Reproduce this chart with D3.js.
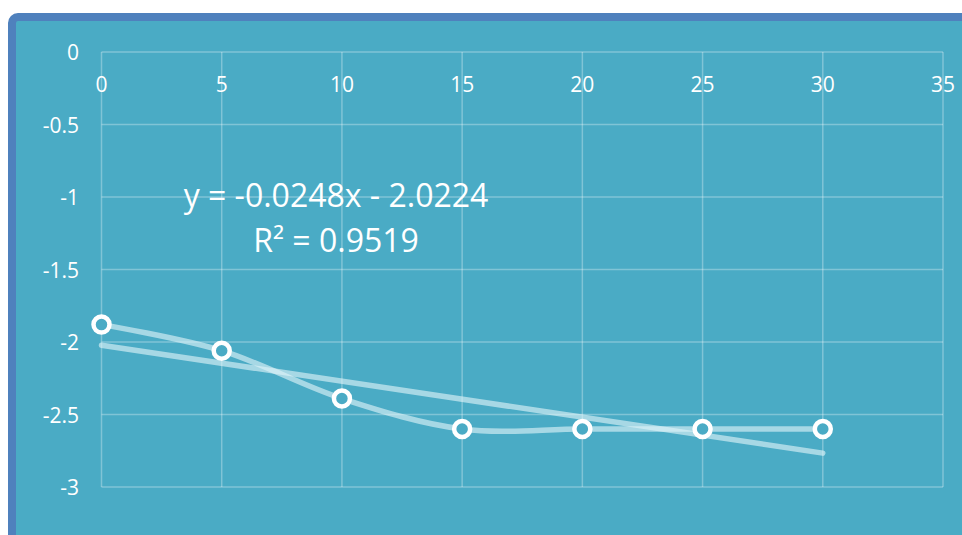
<!DOCTYPE html>
<html><head><meta charset="utf-8">
<script src="https://cdn.jsdelivr.net/npm/d3@7"></script>
<style>body{margin:0;background:#fff;}svg{display:block;}</style>
</head><body>
<svg id="c" width="962" height="535"></svg>
<script>
const xValues = [0, 5, 10, 15, 20, 25, 30];
const yValues = [-1.88, -2.06, -2.39, -2.6, -2.6, -2.6, -2.6];
const xTicks = [0, 5, 10, 15, 20, 25, 30, 35];
const yTicks = [0, -0.5, -1, -1.5, -2, -2.5, -3];
const trendSlope = -0.0248;
const trendIntercept = -2.0224;
const equationLabel = "y = -0.0248x - 2.0224";
const r2Label = "R² = 0.9519";

const svg = d3.select("#c");
const bg = "#4AABC5";
svg.append("rect").attr("x", 12).attr("y", 17).attr("width", 970).attr("height", 540)
  .attr("rx", 6).attr("fill", bg).attr("stroke", "#4F81BD").attr("stroke-width", 8);

const x = d3.scaleLinear().domain([0, 35]).range([101.5, 943]);
const y = d3.scaleLinear().domain([0, -3]).range([52, 487]);
const grid = "rgba(255,255,255,0.3)";

const gx = svg.append("g");
gx.selectAll("line").data(xTicks).join("line")
  .attr("x1", d => x(d)).attr("x2", d => x(d)).attr("y1", y(0)).attr("y2", y(-3))
  .attr("stroke", grid).attr("stroke-width", 1.5);
const gy = svg.append("g");
gy.selectAll("line").data(yTicks).join("line")
  .attr("y1", d => y(d)).attr("y2", d => y(d)).attr("x1", x(0)).attr("x2", x(35))
  .attr("stroke", grid).attr("stroke-width", 1.5);

svg.append("g").selectAll("text").data(xTicks).join("text")
  .attr("x", d => x(d)).attr("y", y(0) + 32).attr("text-anchor", "middle")
  .attr("dominant-baseline", "central").attr("fill", "#fff")
  .attr("font-family", "Open Sans").attr("font-size", 21).text(d => d);
svg.append("g").selectAll("text").data(yTicks).join("text")
  .attr("x", 79).attr("y", d => y(d)).attr("text-anchor", "end")
  .attr("dominant-baseline", "central").attr("fill", "#fff")
  .attr("font-family", "Open Sans").attr("font-size", 21).text(d => d);

const lineColor = "rgba(225,243,248,0.62)";
const pts = xValues.map((v, i) => [v, yValues[i]]);
svg.append("path").datum(pts)
  .attr("d", d3.line().x(d => x(d[0])).y(d => y(d[1])).curve(d3.curveCardinal.tension(0)))
  .attr("fill", "none").attr("stroke", lineColor).attr("stroke-width", 5.5).attr("stroke-linecap", "round");

const tr = [0, 30].map(v => [v, trendSlope * v + trendIntercept]);
svg.append("path").datum(tr)
  .attr("d", d3.line().x(d => x(d[0])).y(d => y(d[1])))
  .attr("fill", "none").attr("stroke", lineColor).attr("stroke-width", 5.5).attr("stroke-linecap", "round");

svg.append("g").selectAll("circle").data(pts).join("circle")
  .attr("cx", d => x(d[0])).attr("cy", d => y(d[1])).attr("r", 8)
  .attr("fill", bg).attr("stroke", "#fff").attr("stroke-width", 4.5);

svg.append("text").attr("x", 336).attr("y", 207).attr("text-anchor", "middle")
  .attr("fill", "#fff").attr("font-family", "Open Sans").attr("font-size", 32).text(equationLabel);
svg.append("text").attr("x", 336).attr("y", 252).attr("text-anchor", "middle")
  .attr("fill", "#fff").attr("font-family", "Open Sans").attr("font-size", 32).text(r2Label);
</script>
</body></html>
